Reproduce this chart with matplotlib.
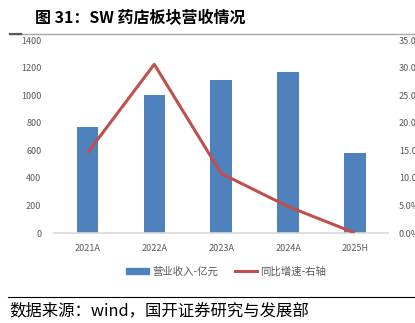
import matplotlib
matplotlib.use('Agg')
from matplotlib import pyplot as plt
from matplotlib.lines import Line2D
from matplotlib.patches import Patch
from matplotlib.ticker import FuncFormatter

plt.rcParams['font.family'] = ['Noto Sans CJK SC', 'DejaVu Sans']

# 数据
years = ['2021A', '2022A', '2023A', '2024A', '2025H']
revenue = [770, 1001, 1109, 1165, 578]          # 营业收入-亿元
growth = [14.5, 30.6, 10.8, 4.8, 0.0]           # 同比增速(%)

left_ticks = [0, 200, 400, 600, 800, 1000, 1200, 1400]
right_ticks = [0, 5, 10, 15, 20, 25, 30, 35]

bar_color = '#4F81BD'
line_color = '#C0504D'
tick_color = '#595959'

fig = plt.figure(figsize=(4.15, 3.23), dpi=100)
ax = fig.add_axes([0.130, 0.2786, 0.806, 0.5975])
ax2 = ax.twinx()

x = range(len(years))
ax.bar(x, revenue, width=0.32, color=bar_color, zorder=2)
ax2.plot(x, growth, color=line_color, lw=2.2, solid_capstyle='butt', zorder=3)

ax.set_xlim(-0.5, len(years) - 0.5)
ax.set_ylim(0, 1400)
ax2.set_ylim(0, 35)
ax.set_yticks(left_ticks)
ax2.set_yticks(right_ticks)
ax2.yaxis.set_major_formatter(FuncFormatter(lambda v, p: '%.1f%%' % v))
ax.set_xticks(list(x))
ax.set_xticklabels(years)

for a in (ax, ax2):
    for s in a.spines.values():
        s.set_visible(False)
    a.tick_params(length=0, labelsize=6.5, labelcolor=tick_color)
ax.tick_params(axis='y', pad=9)
ax.tick_params(axis='x', pad=8)
ax2.tick_params(axis='y', pad=7.5)
ax.spines['bottom'].set_visible(True)
ax.spines['bottom'].set_color('#d9d9d9')
ax.spines['bottom'].set_linewidth(1.2)

# 图例
handles = [Patch(color=bar_color), Line2D([], [], color=line_color, lw=2.2)]
labels = ['营业收入-亿元', '同比增速-右轴']
fig.legend(handles, labels, loc='center', bbox_to_anchor=(0.545, 0.159),
           ncol=2, frameon=False, fontsize=7.5, labelcolor=tick_color,
           handlelength=2.2, handleheight=0.6, handletextpad=0.3, columnspacing=1.6)

# 标题与来源
fig.text(0.084, 0.944, '图 31：SW 药店板块营收情况', fontsize=11.5, fontweight='bold',
         va='center', ha='left')
fig.add_artist(Line2D([0.025, 1.0], [0.895, 0.895], color='#a6a6a6', lw=1.0))
fig.add_artist(Line2D([0.025, 0.05], [0.895, 0.895], color='#595959', lw=1.6))
fig.add_artist(Line2D([0.02, 1.0], [0.080, 0.080], color='black', lw=0.8))
fig.text(0.022, 0.037, '数据来源：wind，国开证券研究与发展部', fontsize=11.8,
         va='center', ha='left')

fig.savefig('out.png', dpi=100)
